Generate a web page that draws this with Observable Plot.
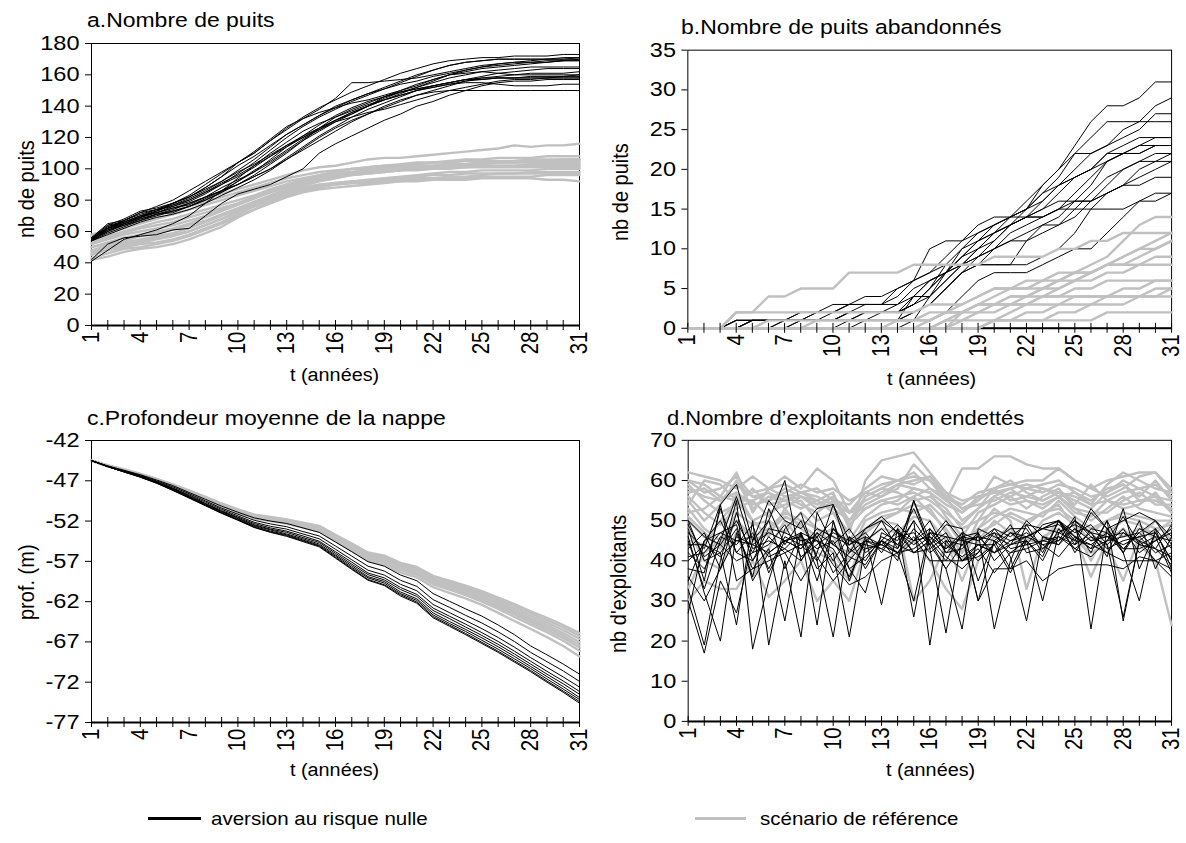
<!DOCTYPE html>
<html><head><meta charset="utf-8">
<script src="https://cdn.jsdelivr.net/npm/d3@7"></script>
<script src="https://cdn.jsdelivr.net/npm/@observablehq/plot@0.6"></script>
<style>
html,body{margin:0;padding:0;background:#fff;}
#root{position:relative;width:1186px;height:843px;overflow:hidden;font-family:"Liberation Sans",Arial,sans-serif;color:#000;}
.panel{position:absolute;}
.txt{position:absolute;white-space:nowrap;line-height:1;transform-origin:0 0;}
.lg{position:absolute;height:0;}
</style></head>
<body><div id="root"></div>
<script>
// ---------- DATA ----------
const years = [1,2,3,4,5,6,7,8,9,10,11,12,13,14,15,16,17,18,19,20,21,22,23,24,25,26,27,28,29,30,31];
const xTickLabels = [1,4,7,10,13,16,19,22,25,28,31];

// a. Nombre de puits
const puitsTicks = [0,20,40,60,80,100,120,140,160,180];
const puitsNoir = [
[55,62,66,70,73,77,81,86,92,99,106,114,122,128,134,139,144,148,152,156,160,163,166,168,169,170,170,170,170,171,171],
[55,63,67,71,74,76,79,84,90,97,104,112,120,127,133,138,143,147,151,155,159,163,166,168,169,170,170,170,170,170,170],
[54,60,65,69,73,77,80,85,91,96,102,108,114,120,126,131,136,140,144,148,152,156,160,162,164,165,166,167,168,169,169],
[56,65,67,72,74,78,82,88,95,104,110,118,126,133,139,144,149,153,157,161,164,167,169,170,171,171,172,172,172,173,173],
[41,48,55,58,61,65,70,78,86,94,102,110,117,124,129,133,137,141,144,147,150,152,154,156,157,158,158,158,158,158,158],
[42,52,56,57,58,61,62,70,78,84,87,90,95,100,110,116,121,126,131,135,140,143,147,150,153,155,156,156,157,157,157],
[54,62,66,70,74,78,82,87,92,98,103,109,115,120,125,130,133,136,138,141,144,147,150,152,154,156,157,157,158,158,158],
[55,61,64,68,71,72,76,81,86,92,99,105,112,119,125,131,136,140,144,147,150,152,154,155,155,154,153,153,153,154,154],
[55,64,66,70,72,75,77,82,88,93,98,104,111,118,124,130,135,140,146,150,154,157,160,161,162,161,160,160,160,160,160],
[54,59,63,67,71,74,78,82,86,90,95,100,106,112,118,124,130,135,140,144,147,149,150,150,150,150,150,150,150,150,150],
[56,62,65,69,73,78,82,88,95,102,108,115,122,128,134,140,144,148,151,154,156,159,161,163,165,166,167,168,168,169,169],
[55,63,66,69,72,76,80,85,90,95,101,108,115,121,126,131,135,140,145,149,151,153,155,157,157,158,158,158,158,159,160],
[55,60,64,67,70,73,76,80,85,90,95,100,107,114,121,127,133,138,142,146,150,153,155,157,158,158,158,159,159,159,159],
[55,62,65,68,71,73,76,80,85,92,98,106,114,121,128,134,139,143,146,149,151,153,155,157,159,161,162,163,164,164,164],
[54,61,65,69,72,75,78,82,86,90,96,103,110,118,126,133,138,142,146,149,152,155,158,160,162,163,164,165,165,165,165],
[55,62,67,72,76,80,86,92,98,104,110,118,125,132,138,145,155,155,156,157,158,160,162,164,166,167,168,169,170,170,171],
[54,58,62,66,69,71,74,78,83,88,93,99,106,113,120,126,131,135,139,143,147,150,153,156,158,159,160,161,161,161,162],
[56,64,68,73,75,78,83,90,97,104,111,119,127,132,136,139,142,144,147,150,153,157,160,163,165,167,168,168,169,169,170]
];
const puitsGris = [
[57,60,64,68,71,74,78,81,84,87,90,93,96,99,101,102,104,106,107,107,108,109,110,111,112,113,115,114,115,115,116],
[52,55,58,60,62,64,67,70,74,78,82,86,90,93,96,98,100,101,102,102,103,104,105,106,106,107,107,107,108,108,108],
[48,51,53,55,57,59,62,66,70,74,78,82,86,89,92,94,96,97,98,99,100,101,102,103,103,104,104,105,105,106,106],
[42,44,47,49,50,52,55,59,63,69,74,78,82,85,87,88,89,90,91,92,93,93,94,94,95,95,95,95,96,96,96],
[45,48,50,52,53,55,58,62,66,71,76,80,84,87,89,91,92,93,94,95,96,97,98,98,99,99,99,99,100,100,100],
[50,53,56,58,60,62,65,69,73,77,81,85,88,91,94,96,97,98,99,99,100,100,101,101,102,102,102,103,103,103,103],
[54,57,60,63,66,68,71,74,77,80,83,87,90,93,95,97,98,99,100,100,101,101,102,102,102,102,102,102,102,102,102],
[47,50,52,54,56,58,60,64,68,73,77,81,85,88,90,91,92,92,93,93,94,94,95,95,96,97,97,97,97,97,97],
[58,61,64,67,70,73,76,79,82,85,88,91,94,96,98,99,100,100,101,101,102,102,103,103,104,104,104,104,104,104,104],
[43,46,49,50,52,54,57,61,65,70,74,79,83,86,88,90,91,91,92,92,92,93,93,93,94,94,94,94,93,93,92],
[50,52,54,57,59,61,64,67,71,75,79,83,87,90,93,95,96,97,98,99,99,100,100,101,101,101,101,101,101,101,101],
[53,56,59,62,64,66,69,72,75,78,82,85,89,92,95,97,98,99,100,101,102,102,103,103,104,104,105,105,105,105,105],
[46,49,51,53,55,57,60,64,68,72,76,80,84,87,89,90,91,92,93,94,95,96,96,97,97,97,97,98,98,98,98],
[56,59,62,65,68,71,74,77,80,83,86,89,92,94,96,98,100,101,102,103,104,104,104,105,105,105,105,106,106,106,106]
];

// b. Nombre de puits abandonnés
const abandTicks = [0,5,10,15,20,25,30,35];
const abandNoir = [
[0,0,0,1,1,1,1,1,2,2,3,4,4,5,6,7,9,11,13,14,14,15,18,20,23,26,28,28,29,31,31],
[0,0,0,0,1,1,1,2,2,2,3,3,3,4,6,10,11,11,12,13,14,16,18,20,22,24,26,26,26,28,29],
[0,0,0,1,1,1,1,1,1,2,2,2,2,2,3,5,8,10,12,13,14,15,16,18,20,22,23,24,25,27,27],
[0,0,0,0,0,0,1,1,1,1,1,2,2,2,4,6,7,8,10,12,14,15,17,19,22,22,23,25,26,26,26],
[0,0,0,1,1,1,1,2,2,2,2,3,3,3,5,6,7,8,9,11,13,14,15,17,19,20,22,23,24,24,24],
[0,0,0,0,1,1,1,1,2,3,3,3,3,5,6,7,8,8,8,8,8,11,13,14,16,18,21,22,23,23,23],
[0,0,0,0,0,0,0,1,1,1,1,1,1,1,4,6,7,9,11,12,13,14,14,15,17,19,21,22,22,23,23],
[0,0,0,1,1,1,1,1,1,1,2,2,2,3,4,4,6,8,9,10,11,11,12,13,14,16,18,20,21,21,22],
[0,0,0,0,0,0,0,0,0,0,0,1,1,1,2,3,5,7,8,8,8,8,9,10,12,15,17,18,20,21,21],
[0,0,0,0,0,0,1,1,1,1,1,1,1,1,2,3,5,7,9,10,11,12,13,13,15,17,19,20,21,22,22],
[0,0,0,0,0,0,0,0,0,0,1,1,1,1,1,1,2,4,6,7,7,7,8,9,10,10,12,14,16,16,17],
[0,0,0,0,1,1,1,1,1,1,1,2,2,2,3,4,6,8,10,11,13,14,14,15,16,16,17,18,18,19,19],
[0,0,0,0,0,0,0,1,1,1,2,2,2,2,3,5,7,9,11,13,14,14,15,16,16,16,17,18,19,20,21],
[0,0,0,0,0,0,0,0,0,0,0,0,0,0,1,4,7,10,11,12,13,14,16,18,19,20,22,22,23,24,24],
[0,0,0,0,1,1,1,1,1,1,1,1,2,2,2,3,5,7,8,10,12,13,14,15,15,15,15,15,16,17,17],
[0,0,0,0,0,0,0,0,1,1,2,2,2,2,3,5,7,9,10,12,13,15,17,18,19,20,21,22,22,23,23]
];
const abandGris = [
[0,0,0,2,2,4,4,5,5,5,7,7,7,7,8,8,8,8,8,9,9,9,9,10,10,11,11,12,12,12,12],
[0,0,0,0,0,0,0,0,0,0,0,0,0,0,0,0,1,2,3,4,5,5,6,6,7,8,9,11,13,14,14],
[0,0,0,2,2,2,2,2,2,2,2,2,2,2,2,3,3,3,4,5,5,5,5,6,7,7,8,9,10,11,12],
[0,0,0,0,0,0,0,0,0,0,0,0,0,0,0,0,0,2,3,3,4,4,5,6,6,7,8,8,9,10,11],
[0,0,0,0,0,0,0,0,0,0,0,0,0,0,0,1,2,2,2,3,3,4,4,5,6,7,8,8,8,9,9],
[0,0,0,0,0,1,1,1,1,1,1,1,1,1,1,2,2,2,3,3,4,4,5,5,6,6,7,7,8,8,8],
[0,0,0,0,0,0,0,0,0,0,0,0,0,0,0,0,0,1,2,2,3,3,4,4,5,5,6,6,6,6,6],
[0,0,0,0,0,0,0,0,0,0,0,0,0,0,0,0,0,0,0,1,2,3,3,3,4,4,4,5,5,6,6],
[0,0,0,0,0,0,0,0,0,0,0,0,0,0,0,0,1,1,1,1,1,2,2,3,3,3,4,4,4,4,5],
[0,0,0,0,0,0,0,0,0,0,0,0,0,0,0,0,0,0,0,1,1,1,1,1,1,1,2,2,2,2,2],
[0,0,0,0,0,0,0,0,1,1,1,1,1,1,1,1,2,2,3,3,3,3,4,4,4,4,4,4,4,4,4],
[0,0,0,0,0,0,0,0,0,0,0,0,0,1,1,1,2,3,4,5,5,6,6,7,7,7,8,9,10,10,11],
[0,0,0,0,0,0,0,0,0,0,0,0,0,0,0,0,0,0,0,1,1,1,1,2,2,3,3,3,4,5,5]
];

// c. Profondeur moyenne de la nappe
const profTicks = [-77,-72,-67,-62,-57,-52,-47,-42];
const profNoir = [
[-44.5,-45.15,-45.7,-46.25,-46.9,-47.6,-48.45,-49.3,-50.15,-50.9,-51.6,-52.0,-52.3,-52.85,-53.4,-54.6,-55.8,-57.05,-57.6,-58.7,-59.4,-61.0,-61.95,-62.9,-63.8,-64.9,-66.1,-67.5,-68.6,-69.75,-71.0],
[-44.5,-45.2,-45.75,-46.3,-47.0,-47.75,-48.6,-49.5,-50.4,-51.15,-51.9,-52.35,-52.7,-53.3,-53.85,-55.1,-56.35,-57.6,-58.2,-59.35,-60.1,-61.75,-62.7,-63.7,-64.65,-65.75,-66.95,-68.3,-69.45,-70.6,-71.9],
[-44.5,-45.2,-45.8,-46.4,-47.1,-47.9,-48.75,-49.65,-50.55,-51.35,-52.15,-52.65,-53.0,-53.6,-54.2,-55.5,-56.8,-58.1,-58.7,-59.85,-60.65,-62.35,-63.35,-64.35,-65.35,-66.45,-67.65,-68.95,-70.15,-71.35,-72.6],
[-44.5,-45.2,-45.8,-46.45,-47.15,-47.95,-48.85,-49.8,-50.7,-51.5,-52.3,-52.85,-53.25,-53.85,-54.5,-55.8,-57.1,-58.45,-59.05,-60.25,-61.1,-62.8,-63.8,-64.8,-65.85,-66.95,-68.15,-69.4,-70.65,-71.85,-73.15],
[-44.5,-45.2,-45.85,-46.45,-47.2,-48.0,-48.95,-49.85,-50.8,-51.6,-52.45,-53.0,-53.4,-54.05,-54.65,-56.0,-57.35,-58.65,-59.3,-60.5,-61.35,-63.1,-64.1,-65.15,-66.2,-67.3,-68.5,-69.75,-71.0,-72.2,-73.5],
[-44.5,-45.25,-45.85,-46.5,-47.2,-48.1,-49.0,-49.95,-50.85,-51.7,-52.55,-53.1,-53.6,-54.2,-54.85,-56.2,-57.55,-58.9,-59.5,-60.8,-61.65,-63.4,-64.45,-65.45,-66.5,-67.6,-68.8,-70.05,-71.3,-72.55,-73.9],
[-44.5,-45.25,-45.9,-46.5,-47.25,-48.15,-49.05,-50.0,-50.95,-51.8,-52.65,-53.25,-53.7,-54.35,-55.0,-56.35,-57.75,-59.05,-59.7,-61.0,-61.85,-63.65,-64.7,-65.7,-66.8,-67.9,-69.1,-70.3,-71.6,-72.85,-74.15],
[-44.5,-45.25,-45.9,-46.55,-47.3,-48.15,-49.1,-50.05,-51.0,-51.85,-52.75,-53.35,-53.8,-54.45,-55.1,-56.5,-57.9,-59.25,-59.9,-61.15,-62.05,-63.85,-64.9,-65.95,-67.05,-68.15,-69.35,-70.55,-71.85,-73.1,-74.4],
[-44.5,-45.25,-45.9,-46.55,-47.3,-48.2,-49.15,-50.1,-51.05,-51.9,-52.8,-53.4,-53.9,-54.55,-55.2,-56.6,-58.0,-59.35,-60.0,-61.3,-62.2,-64.0,-65.05,-66.1,-67.2,-68.3,-69.5,-70.7,-72.0,-73.25,-74.6]
];
const profGris = [
[-44.5,-45.1,-45.6,-46.15,-46.75,-47.45,-48.2,-49.0,-49.8,-50.55,-51.2,-51.5,-51.8,-52.2,-52.6,-53.7,-54.8,-55.9,-56.3,-57.2,-57.7,-58.8,-59.4,-60.0,-60.7,-61.5,-62.3,-63.2,-64.0,-64.9,-65.9],
[-44.5,-45.1,-45.6,-46.15,-46.8,-47.5,-48.25,-49.05,-49.85,-50.6,-51.25,-51.55,-51.85,-52.3,-52.7,-53.8,-54.9,-56.0,-56.45,-57.35,-57.85,-58.95,-59.6,-60.2,-60.9,-61.75,-62.55,-63.45,-64.3,-65.2,-66.25],
[-44.5,-45.1,-45.65,-46.2,-46.8,-47.5,-48.3,-49.1,-49.9,-50.7,-51.3,-51.6,-51.9,-52.35,-52.8,-53.9,-55.0,-56.15,-56.6,-57.5,-58.0,-59.15,-59.8,-60.4,-61.1,-62.0,-62.85,-63.75,-64.6,-65.55,-66.6],
[-44.5,-45.15,-45.65,-46.2,-46.85,-47.55,-48.3,-49.15,-49.95,-50.75,-51.4,-51.7,-52.0,-52.45,-52.85,-54.0,-55.15,-56.3,-56.75,-57.65,-58.2,-59.35,-60.0,-60.6,-61.35,-62.2,-63.1,-64.05,-64.9,-65.9,-67.0],
[-44.5,-45.15,-45.7,-46.2,-46.85,-47.6,-48.35,-49.2,-50.0,-50.8,-51.45,-51.75,-52.05,-52.5,-52.95,-54.1,-55.25,-56.4,-56.85,-57.8,-58.35,-59.5,-60.15,-60.8,-61.55,-62.45,-63.35,-64.3,-65.2,-66.2,-67.35],
[-44.5,-45.15,-45.7,-46.25,-46.9,-47.6,-48.4,-49.2,-50.05,-50.85,-51.5,-51.8,-52.1,-52.55,-53.05,-54.2,-55.35,-56.5,-57.0,-57.95,-58.5,-59.65,-60.35,-61.0,-61.75,-62.65,-63.6,-64.55,-65.5,-66.5,-67.7],
[-44.5,-45.2,-45.7,-46.25,-46.9,-47.65,-48.4,-49.3,-50.1,-50.9,-51.6,-51.9,-52.2,-52.65,-53.15,-54.3,-55.5,-56.65,-57.15,-58.1,-58.7,-59.85,-60.5,-61.2,-62.0,-62.9,-63.9,-64.85,-65.8,-66.85,-68.1],
[-44.5,-45.2,-45.75,-46.3,-46.95,-47.7,-48.5,-49.35,-50.2,-51.0,-51.7,-52.0,-52.3,-52.8,-53.3,-54.5,-55.7,-56.9,-57.4,-58.4,-59.0,-60.2,-60.9,-61.6,-62.4,-63.4,-64.4,-65.4,-66.4,-67.5,-68.8]
];

// d. Nombre d'exploitants non endettés
const exploitTicks = [0,10,20,30,40,50,60,70];
const exploitNoir = [
[48,35,54,59,45,55,50,48,53,54,42,48,50,43,55,45,40,47,45,47,45,46,48,50,45,53,48,50,52,50,46],
[33,19,40,55,18,35,48,52,40,21,46,38,45,42,30,48,42,46,30,45,48,48,42,50,47,49,44,26,45,40,38],
[30,17,35,27,45,50,60,40,46,37,42,45,48,44,50,19,45,40,44,42,44,50,46,45,51,23,48,42,48,46,45],
[46,32,20,47,38,43,25,47,38,42,21,44,50,47,42,45,38,23,48,46,44,45,30,47,50,47,41,53,38,47,40],
[50,40,42,24,50,19,40,21,52,44,48,42,45,40,55,43,22,46,47,23,40,49,48,49,46,43,50,42,30,48,38],
[45,33,45,56,43,45,43,47,24,50,35,46,29,48,26,47,46,40,42,47,41,25,46,44,48,42,50,25,45,43,41],
[38,37,53,42,40,48,47,45,46,50,38,32,47,45,53,44,49,48,35,45,38,46,48,50,44,52,48,43,47,50,44],
[44,44,42,48,36,53,44,50,41,35,40,45,44,42,46,40,40,40,43,37,42,45,40,48,43,46,42,40,40,40,42],
[47,43,54,35,38,40,42,35,42,54,45,48,51,47,44,47,43,46,45,48,46,49,43,47,45,44,47,42,50,38,46],
[36,30,38,46,44,42,45,46,43,45,38,41,45,43,50,44,38,44,40,44,37,45,41,50,46,43,45,51,44,46,37],
[42,38,46,44,49,37,45,43,47,40,46,43,44,47,45,46,43,47,30,38,38,40,35,38,39,39,39,38,41,40,36],
[35,45,47,49,35,42,45,47,45,39,34,36,40,42,43,46,41,38,42,48,43,44,49,50,42,48,47,43,43,45,48],
[40,44,41,45,44,47,45,43,48,46,44,47,42,48,42,45,50,45,46,42,47,44,45,46,44,47,43,45,46,42,44],
[49,41,44,50,42,44,49,41,44,47,45,44,43,41,45,48,44,41,44,42,45,47,44,45,48,45,46,44,46,47,40],
[27,45,50,42,47,38,46,44,40,48,43,40,46,44,42,43,46,45,44,44,47,46,48,47,49,47,46,47,45,48,43],
[43,47,38,52,40,46,42,44,45,43,36,45,43,46,47,42,45,44,46,45,42,43,45,44,50,46,44,48,42,45,47],
[50,46,44,40,42,50,38,47,35,48,44,46,44,42,48,44,47,40,41,44,49,42,43,46,43,41,45,46,47,43,49],
[41,42,47,45,46,41,43,40,47,44,41,39,45,49,45,50,42,43,47,40,44,46,44,41,46,44,42,47,44,43,39]
];
const exploitGris = [
[54,60,59,55,57,58,56,57,55,53,50,56,58,60,62,58,55,63,63,66,66,64,63,63,60,58,60,61,62,62,58],
[58,56,55,57,54,55,58,56,55,52,47,60,65,66,67,62,57,53,55,58,60,57,55,57,56,54,55,57,58,56,55],
[62,61,60,58,61,58,59,57,56,54,52,53,55,54,56,58,56,54,57,58,59,60,60,63,60,58,56,58,61,62,57],
[60,59,56,62,52,58,61,58,63,60,52,57,59,60,61,60,55,52,55,61,59,58,59,60,57,54,59,62,60,58,57],
[59,55,52,54,58,54,55,56,53,56,50,54,56,58,64,60,56,50,53,58,55,56,58,57,55,53,57,59,55,56,52],
[55,50,54,60,53,56,55,53,55,57,48,56,58,57,55,56,53,48,50,56,58,55,54,56,53,52,52,55,57,54,54],
[53,48,45,57,50,52,54,55,50,52,45,51,54,55,58,57,51,46,52,54,56,53,56,58,53,50,53,56,53,52,51],
[50,46,44,52,49,50,47,52,48,44,42,50,52,53,52,54,50,44,48,51,53,52,51,55,51,48,50,52,51,50,50],
[48,40,38,47,36,43,50,45,42,40,35,45,48,47,51,50,45,35,45,50,47,45,50,52,49,45,47,50,49,45,48],
[30,35,33,33,40,31,35,40,30,35,30,43,45,42,45,40,33,28,40,46,48,45,45,50,46,36,45,48,44,40,24],
[33,42,45,50,46,48,52,50,48,46,40,48,50,52,56,52,48,42,47,49,52,50,52,54,48,40,48,46,48,47,50],
[57,58,55,59,56,57,55,57,58,55,54,58,61,60,59,61,57,55,56,57,56,58,57,59,58,56,57,60,58,59,56],
[45,44,50,55,50,46,53,48,45,42,36,47,50,49,30,35,44,40,48,53,50,33,46,48,45,42,44,35,46,50,45],
[52,53,56,55,55,57,53,56,54,56,52,55,57,59,60,61,56,53,54,55,57,56,55,57,54,59,55,53,54,57,52],
[60,57,58,61,56,55,57,59,57,58,55,57,56,59,58,57,54,52,56,57,58,59,58,56,57,55,58,59,56,60,55],
[56,52,49,53,55,51,56,54,52,55,49,53,55,56,57,55,52,49,53,56,54,55,53,56,52,51,55,54,55,55,53],
[51,47,43,50,45,47,51,49,46,48,44,48,51,52,54,53,47,42,50,52,51,49,52,53,50,47,50,51,50,48,49]
];

// ---------- STYLE ----------
const FONT = '"Liberation Sans", Arial, sans-serif';
const GREY = "#c0c0c0";
const TICK_FS = 20.5, S_TICK = 1.15;   // reference lettering is slightly wide
const S_TITLE = 1.12, S_AXIS = 1.1, S_LEG = 1.08;

const root = document.getElementById("root");

function toRows(runs) {
  return runs.flatMap((run, r) => run.map((v, i) => ({t: years[i], v, run: r})));
}

function stretch(svg) {
  svg.querySelectorAll('g[aria-label="y-axis tick label"] text').forEach(t => {
    const L = t.getComputedTextLength();
    t.setAttribute("textLength", L * S_TICK);
    t.setAttribute("lengthAdjust", "spacingAndGlyphs");
  });
  svg.querySelectorAll('g[aria-label="x-axis tick label"] text').forEach(t => {
    const L = t.getComputedTextLength();
    t.style.fontSize = (TICK_FS * S_TICK) + "px";
    t.setAttribute("textLength", L);
    t.setAttribute("lengthAdjust", "spacingAndGlyphs");
  });
}

function panel(cfg) {
  const {noir, gris, domain, ticks, fr, greyOnTop} = cfg;
  const mL = 100, mT = 50, mR = 15, mB = 75;
  const fw = fr.right - fr.left, fh = fr.bottom - fr.top;
  const greyLines = Plot.line(toRows(gris), {x: "t", y: "v", z: "run", stroke: GREY, strokeWidth: 2.4, strokeLinejoin: "round"});
  const blackLines = Plot.line(toRows(noir), {x: "t", y: "v", z: "run", stroke: "#000", strokeWidth: 1, strokeLinejoin: "round"});
  const svg = Plot.plot({
    width: fw + mL + mR, height: fh + mT + mB,
    marginLeft: mL, marginTop: mT, marginRight: mR, marginBottom: mB,
    x: {domain: [1, 31], label: null},
    y: {domain: domain, label: null},
    style: {fontFamily: FONT, fontSize: TICK_FS + "px", color: "#000", background: "transparent", overflow: "visible"},
    marks: [
      Plot.frame({stroke: "#000", strokeWidth: 1}),
      Plot.ruleY([domain[0]], {stroke: "#000", strokeWidth: 2}),
      ...(greyOnTop ? [blackLines, greyLines] : [greyLines, blackLines]),
      Plot.tickX(years, {x: d => d, insetTop: fh - 5, insetBottom: -5, stroke: "#000", strokeWidth: 1}),
      Plot.axisY(ticks, {tickSize: 6, tickPadding: 6, tickFormat: d => String(d), fontSize: TICK_FS}),
      Plot.axisX(xTickLabels, {tickSize: 0, tickRotate: -90, tickPadding: 6, tickFormat: d => String(d), fontSize: TICK_FS})
    ]
  });
  const div = document.createElement("div");
  div.className = "panel";
  div.style.left = (fr.left - mL) + "px";
  div.style.top = (fr.top - mT) + "px";
  div.appendChild(svg);
  root.appendChild(div);
  stretch(svg);
}

function text(str, x, baseline, fs, s, opts = {}) {
  const el = document.createElement("div");
  el.className = "txt";
  el.textContent = str;
  el.style.fontSize = fs + "px";
  root.appendChild(el);
  const w = el.getBoundingClientRect().width;
  if (opts.rotate) {
    // x = centre column, baseline = vertical centre of the label
    el.style.left = (x - fs * s / 2) + "px";
    el.style.top = (baseline + w / 2) + "px";
    el.style.transform = `rotate(-90deg) scaleY(${s})`;
  } else {
    const left = opts.center ? x - w * s / 2 : x;
    el.style.left = left + "px";
    el.style.top = (baseline - 0.85 * fs) + "px";
    el.style.transform = `scaleX(${s})`;
  }
  return el;
}

// ---------- PANELS ----------
const FA = {left: 91, top: 43, right: 579, bottom: 325};
const FB = {left: 688, top: 50, right: 1175, bottom: 330};
const FC = {left: 91, top: 440, right: 579, bottom: 722};
const FD = {left: 688, top: 440, right: 1173, bottom: 722};

panel({noir: puitsNoir, gris: puitsGris, domain: [0, 180], ticks: puitsTicks, fr: FA});
panel({noir: abandNoir, gris: abandGris, domain: [0, 35], ticks: abandTicks, fr: FB, greyOnTop: true});
panel({noir: profNoir, gris: profGris, domain: [-77, -42], ticks: profTicks, fr: FC});
panel({noir: exploitNoir, gris: exploitGris, domain: [0, 70], ticks: exploitTicks, fr: FD});

// titles
text("a.Nombre de puits", 87, 27, 20.5, S_TITLE);
text("b.Nombre de puits abandonnés", 681, 34, 20.5, S_TITLE);
text("c.Profondeur moyenne de la nappe", 87, 425, 20.5, S_TITLE);
text("d.Nombre d\u2019exploitants non endettés", 667, 425, 20.5, 1.07);

// x titles
text("t (années)", (FA.left + FA.right) / 2, 381, 18, S_AXIS, {center: true});
text("t (années)", (FB.left + FB.right) / 2, 385, 18, S_AXIS, {center: true});
text("t (années)", (FC.left + FC.right) / 2, 776, 18, S_AXIS, {center: true});
text("t (années)", (FD.left + FD.right) / 2, 776, 18, S_AXIS, {center: true});

// y titles
text("nb de puits", 26, 189, 20, S_AXIS, {rotate: true});
text("nb de puits", 620, 192, 20, S_AXIS, {rotate: true});
text("prof. (m)", 26, 582, 20, S_AXIS, {rotate: true});
text("nb d'exploitants", 618, 584, 20, S_AXIS, {rotate: true});

// legend
function legendLine(x1, x2, y, color, w) {
  const el = document.createElement("div");
  el.className = "lg";
  el.style.left = x1 + "px";
  el.style.width = (x2 - x1) + "px";
  el.style.top = (y - w / 2) + "px";
  el.style.borderTop = `${w}px solid ${color}`;
  root.appendChild(el);
}
legendLine(148, 201, 818, "#000", 3);
text("aversion au risque nulle", 211, 825, 19, S_LEG);
legendLine(695, 746, 818, GREY, 3);
text("scénario de référence", 760, 825, 19, S_LEG);
</script>
</body></html>
